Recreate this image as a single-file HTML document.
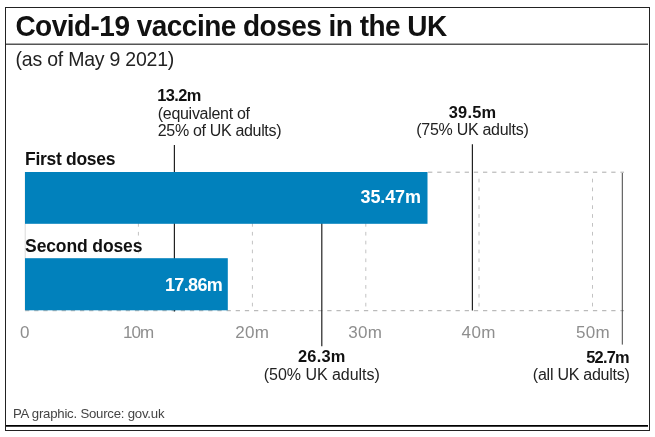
<!DOCTYPE html>
<html lang="en">
<head>
<meta charset="utf-8">
<title>Covid-19 vaccine doses in the UK</title>
<style>
html,body{margin:0;padding:0;background:#fff;}
body{width:655px;height:437px;overflow:hidden;}
svg{display:block;}
text{font-family:"Liberation Sans",Arial,Helvetica,sans-serif;fill:#1a1a1a;}
.b{font-weight:bold;}
.title{font-size:28px;font-weight:bold;fill:#111;letter-spacing:-0.52px;}
.sub{font-size:19.5px;letter-spacing:-0.22px;fill:#222;}
.foot{font-size:13.2px;fill:#444;letter-spacing:-0.22px;}
.lab{font-size:17.5px;font-weight:bold;fill:#111;}
.an{font-size:16px;fill:#222;}
.anb{font-size:16.4px;font-weight:bold;fill:#111;}
.val{font-size:18px;font-weight:bold;fill:#fff;}
.ax text{font-size:17px;fill:#8e8e8e;letter-spacing:0.35px;}
.ref{stroke:#222;stroke-width:1.2;fill:none;}
</style>
</head>
<body>
<svg width="655" height="437" viewBox="0 0 655 437">
  <rect x="0" y="0" width="655" height="437" fill="#ffffff"/>
  <!-- frame -->
  <rect x="5.5" y="7.5" width="644" height="423" fill="none" stroke="#222" stroke-width="1"/>
  <line x1="6" y1="44.2" x2="648" y2="44.2" stroke="#555" stroke-width="1.6"/>
  <line x1="6" y1="425.9" x2="648" y2="425.9" stroke="#000" stroke-width="1.8"/>

  <!-- headings -->
  <text class="title" transform="translate(15.4 35.7) scale(1 1.035)">Covid-19 vaccine doses in the UK</text>
  <text class="sub" transform="translate(15.6 65.8) scale(1 1.03)">(as of May 9 2021)</text>
  <text class="foot" x="12.9" y="417.6">PA graphic. Source: gov.uk</text>

  <!-- grid -->
  <g fill="none" stroke="#c2c2c2" stroke-width="1" stroke-dasharray="3.7 5.16">
    <line x1="138.4" y1="178.7" x2="138.4" y2="310.6"/>
    <line x1="252.4" y1="178.7" x2="252.4" y2="310.6"/>
    <line x1="365.8" y1="178.7" x2="365.8" y2="310.6"/>
    <line x1="479" y1="178.7" x2="479" y2="310.6"/>
    <line x1="592.5" y1="178.7" x2="592.5" y2="310.6"/>
  </g>
  <g fill="none" stroke="#ababab" stroke-width="1" stroke-dasharray="4.3 4.86">
    <line x1="428.04" y1="172.2" x2="624" y2="172.2"/>
    <line x1="25" y1="310.7" x2="624" y2="310.7"/>
  </g>

  <line x1="25.2" y1="172" x2="25.2" y2="310.6" stroke="#dadada" stroke-width="1"/>

  <!-- reference lines -->
  <g class="ref">
    <line x1="174.4" y1="145" x2="174.4" y2="311.4"/>
    <line x1="321.8" y1="200" x2="321.8" y2="346.2"/>
    <line x1="472.4" y1="144.3" x2="472.4" y2="310.6"/>
    <line x1="622.3" y1="173" x2="622.3" y2="344.6" stroke="#444" stroke-width="1"/>
  </g>

  <!-- bars -->
  <rect x="25" y="172" width="402.5" height="51.8" fill="#0181bc"/>
  <rect x="25" y="258.2" width="202.8" height="52.1" fill="#0181bc"/>

  <!-- bar labels -->
  <text class="lab" x="25.1" y="165.2" letter-spacing="-0.3">First doses</text>
  <text class="lab" x="25.1" y="251.9" letter-spacing="-0.12">Second doses</text>
  <text class="val" x="360.6" y="203.4" letter-spacing="-0.15">35.47m</text>
  <text class="val" x="165" y="291" letter-spacing="-0.65">17.86m</text>

  <!-- axis labels -->
  <g class="ax">
    <text x="20" y="337.8">0</text>
    <text x="123" y="337.8" style="letter-spacing:-0.9px">10m</text>
    <text x="235.2" y="337.8">20m</text>
    <text x="348.2" y="337.8">30m</text>
    <text x="461.6" y="337.8">40m</text>
    <text x="576" y="337.8">50m</text>
  </g>

  <!-- annotations -->
  <text class="anb" x="157.2" y="101.1" letter-spacing="-0.6">13.2m</text>
  <text class="an" x="157.8" y="119.3" letter-spacing="-0.3">(equivalent of</text>
  <text class="an" x="157.8" y="136.4" letter-spacing="-0.33">25% of UK adults)</text>

  <text class="anb" x="472.6" y="118" text-anchor="middle" letter-spacing="0.25">39.5m</text>
  <text class="an" x="472.4" y="134.8" text-anchor="middle" letter-spacing="-0.28">(75% UK adults)</text>

  <text class="anb" x="321.8" y="362.3" text-anchor="middle" letter-spacing="0.2">26.3m</text>
  <text class="an" x="321.8" y="379.6" text-anchor="middle" letter-spacing="-0.03">(50% UK adults)</text>

  <text class="anb" x="586.2" y="362.6" letter-spacing="-0.75">52.7m</text>
  <text class="an" x="629.6" y="380.2" text-anchor="end" letter-spacing="-0.25">(all UK adults)</text>
</svg>
</body>
</html>
